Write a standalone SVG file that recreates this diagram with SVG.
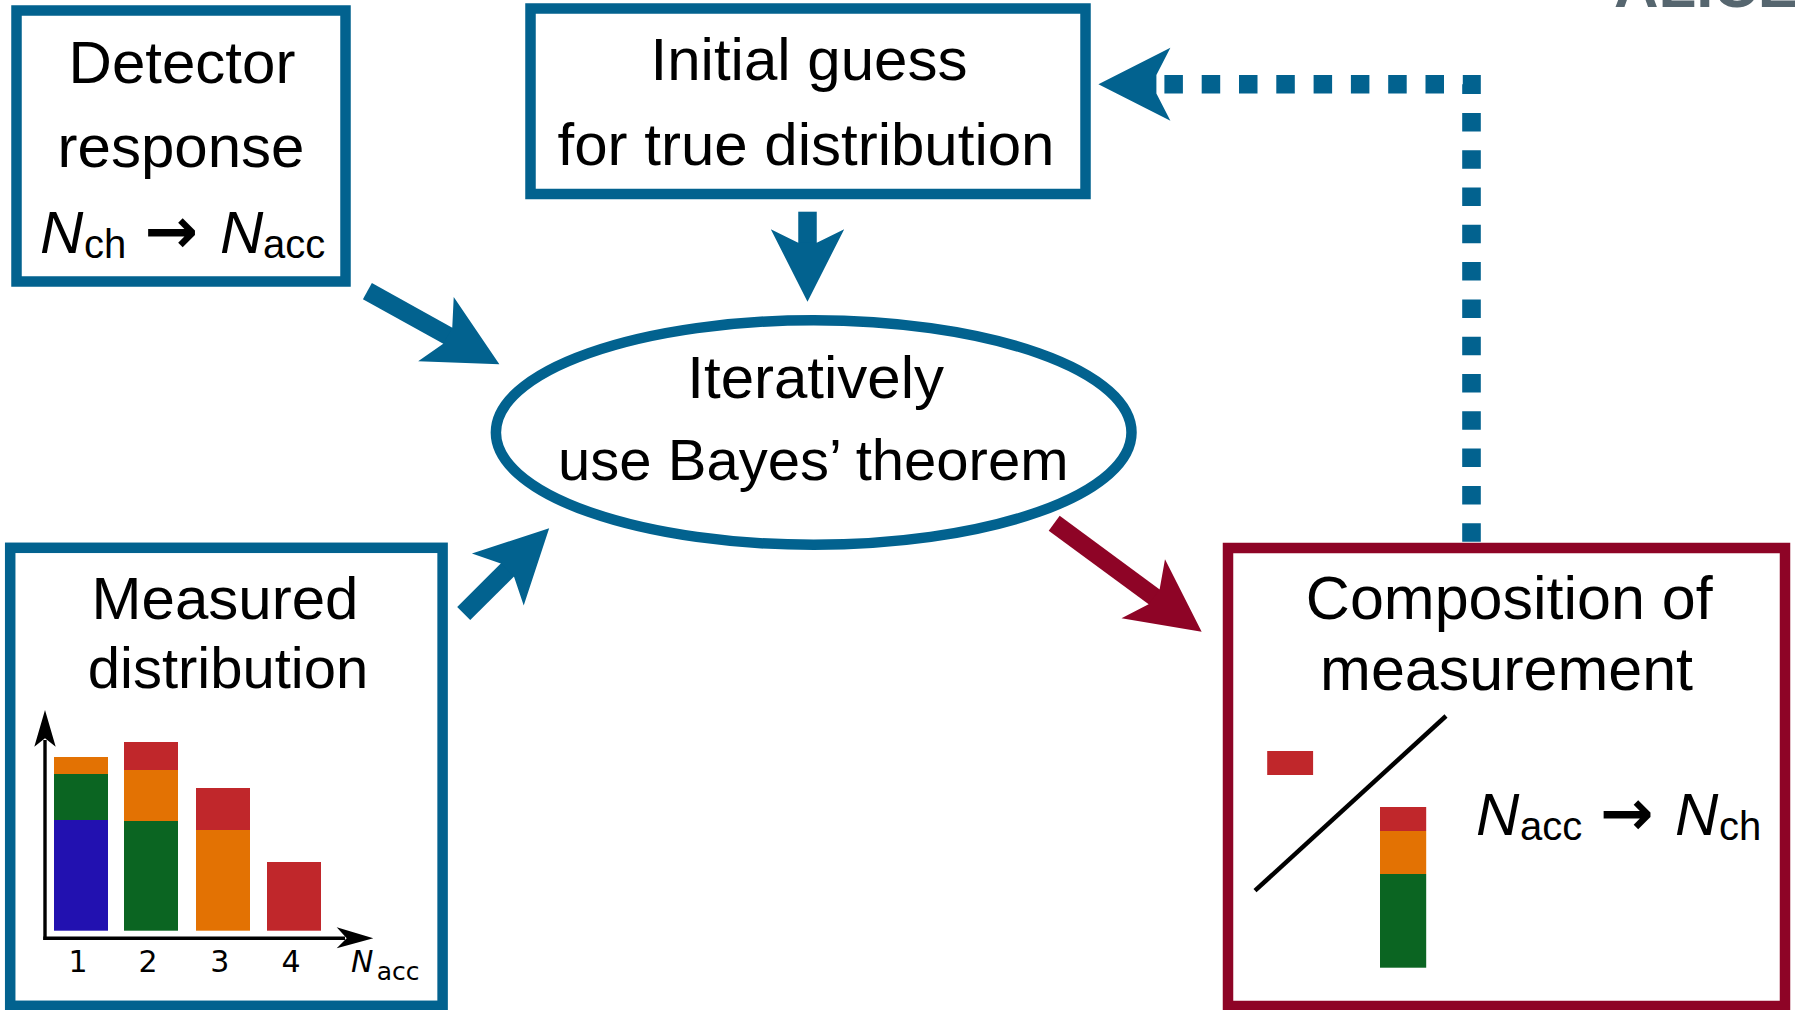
<svg xmlns="http://www.w3.org/2000/svg" width="1795" height="1010" viewBox="0 0 1795 1010">
<style>
.box{fill:#fff;stroke:#02628f;stroke-width:10.5}
.rbox{fill:#fff;stroke:#8e0426;stroke-width:10.5}
.t{font-family:"Liberation Sans",Arial,sans-serif;font-size:60px;fill:#000;text-anchor:start}
.c{text-anchor:middle}
.it{font-style:italic}
.sub{font-size:40px}
.arr{font-family:"DejaVu Sans",sans-serif;font-weight:bold;font-size:64px;text-anchor:middle;fill:#000}
.ax{font-family:"DejaVu Sans",sans-serif;font-size:30px;fill:#000}
.sh{stroke:#02628f;stroke-width:18.5;fill:none}
.shr{stroke:#8e0426;stroke-width:18.5;fill:none}
.dot{stroke:#02628f;stroke-width:18.6;fill:none;stroke-dasharray:18.5 18.8}
.axl{stroke:#000;stroke-width:3.4;fill:none}
.bl{fill:#2211b0}.gr{fill:#0b6522}.or{fill:#e37203}.rd{fill:#c0272b}
</style>
<defs>
<marker id="hb" markerUnits="userSpaceOnUse" viewBox="-30 -40 80 80" markerWidth="80" markerHeight="80" refX="0" refY="0" orient="auto">
<path d="M45,0 L-27.5,-36.7 L-14,-9.3 L-14,9.3 L-27.5,36.7 Z" fill="#02628f"/>
</marker>
<marker id="hr" markerUnits="userSpaceOnUse" viewBox="-30 -40 80 80" markerWidth="80" markerHeight="80" refX="0" refY="0" orient="auto">
<path d="M45,0 L-27.5,-36.7 L-14,-9.3 L-14,9.3 L-27.5,36.7 Z" fill="#8e0426"/>
</marker>
<marker id="hd" markerUnits="userSpaceOnUse" viewBox="-10 -40 80 80" markerWidth="80" markerHeight="80" refX="0" refY="0" orient="auto">
<path d="M66,0 L-6,-36.5 L8,-9.3 L8,9.3 L-6,36.5 Z" fill="#02628f"/>
</marker>
</defs>
<rect width="1795" height="1010" fill="#fff"/>

<text x="1614" y="6.7" font-family="Liberation Sans,Arial,sans-serif" font-weight="bold" font-size="60" fill="#56666f" textLength="185" lengthAdjust="spacingAndGlyphs">ALICE</text>

<g id="connectors">
<line class="sh" x1="367.4" y1="291.2" x2="460" y2="342.5" marker-end="url(#hb)"/>
<line class="sh" x1="807.5" y1="211.7" x2="807.5" y2="256.7" marker-end="url(#hb)"/>
<line class="sh" x1="463.7" y1="613.5" x2="517.3" y2="560.1" marker-end="url(#hb)"/>
<line class="shr" x1="1054.2" y1="523.3" x2="1165.4" y2="605.1" marker-end="url(#hr)"/>
<path class="dot" d="M1471.5,541.7 V84.3 H1164.4" marker-end="url(#hd)"/>
</g>

<g id="detector">
<rect class="box" x="16.5" y="10.5" width="329" height="271"/>
<text class="t c" x="182" y="83.3">Detector</text>
<text class="t c" x="181" y="166.7">response</text>
<text class="t" y="253.3"><tspan class="it" x="40">N</tspan><tspan class="sub" x="84" y="258">ch</tspan><tspan class="sub" x="263" y="258">acc</tspan><tspan class="it" x="220" y="253.3">N</tspan></text>
<text class="arr" x="171" y="253.3">→</text>
</g>

<g id="initial">
<rect class="box" x="530.5" y="8.5" width="555" height="185.5"/>
<text class="t c" x="809" y="80">Initial guess</text>
<text class="t c" x="806" y="165">for true distribution</text>
</g>

<g id="bayes">
<ellipse class="box" cx="813.7" cy="432.5" rx="317.8" ry="112.3"/>
<text class="t c" x="815.7" y="398.3" font-size="57.5">Iteratively</text>
<text class="t c" x="813.3" y="480" style="font-size:58px">use Bayes’ theorem</text>
</g>

<g id="measured">
<rect class="box" x="10.2" y="547.8" width="432.4" height="458"/>
<text class="t c" x="225" y="619.3">Measured</text>
<text class="t c" x="228" y="688.3" style="font-size:58px">distribution</text>
<rect class="or" x="54" y="757" width="54" height="17"/>
<rect class="gr" x="54" y="774" width="54" height="46"/>
<rect class="bl" x="54" y="820" width="54" height="110.7"/>
<rect class="rd" x="124" y="742" width="54" height="28"/>
<rect class="or" x="124" y="770" width="54" height="51"/>
<rect class="gr" x="124" y="821" width="54" height="109.7"/>
<rect class="rd" x="196" y="788" width="54" height="42"/>
<rect class="or" x="196" y="830" width="54" height="100.7"/>
<rect class="rd" x="267" y="862" width="54" height="68.7"/>
<path class="axl" d="M45,940 V740"/>
<polygon points="45,710 55.7,746.7 45,738.3 34.3,746.7" fill="#000"/>
<path class="axl" d="M43.3,938.3 H345"/>
<polygon points="373.3,938.3 336.7,927.3 346.7,938.3 336.7,948.3" fill="#000"/>
<text class="ax" x="78" y="971.7" text-anchor="middle">1</text>
<text class="ax" x="148" y="971.7" text-anchor="middle">2</text>
<text class="ax" x="219.7" y="971.7" text-anchor="middle">3</text>
<text class="ax" x="291" y="971.7" text-anchor="middle">4</text>
<text class="ax" x="351" y="971.7"><tspan font-style="italic">N</tspan><tspan x="376.7" y="980" font-size="25">acc</tspan></text>
</g>

<g id="composition">
<rect class="rbox" x="1228" y="548" width="557" height="458"/>
<text class="t c" x="1509.3" y="619.3" style="font-size:61px">Composition of</text>
<text class="t c" x="1506.6" y="690" style="font-size:61px">measurement</text>
<rect class="rd" x="1267.2" y="751" width="45.9" height="24"/>
<line x1="1255" y1="890.7" x2="1446" y2="716" stroke="#000" stroke-width="4.5"/>
<rect class="rd" x="1380" y="807" width="46.2" height="24"/>
<rect class="or" x="1380" y="831" width="46.2" height="43"/>
<rect class="gr" x="1380" y="874" width="46.2" height="93.7"/>
<text class="t" y="835"><tspan class="it" x="1476">N</tspan><tspan class="sub" x="1520" y="840">acc</tspan><tspan class="it" x="1675" y="835">N</tspan><tspan class="sub" x="1719" y="840">ch</tspan></text>
<text class="arr" x="1626.5" y="835">→</text>
</g>
</svg>
